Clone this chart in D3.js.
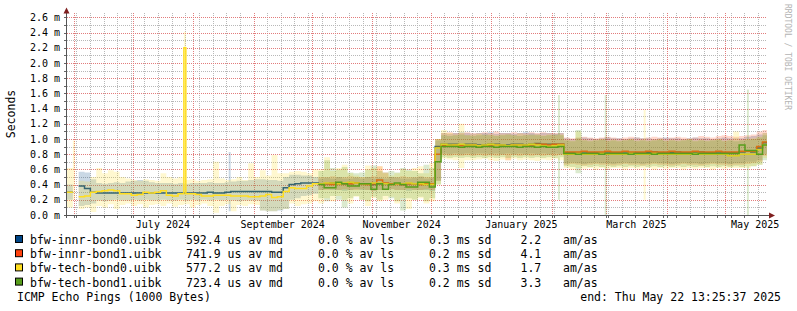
<!DOCTYPE html>
<html>
<head>
<meta charset="utf-8">
<title>ICMP Echo Pings</title>
<script src="https://cdn.jsdelivr.net/npm/d3@7"></script>
<style>
    html, body { margin: 0; padding: 0; background: #fff; }
    svg { display: block; }
    text { font-family: "DejaVu Sans Mono", monospace; }
</style>
</head>
<body>
<div id="chart"></div>
<script>
// --- Data (values in ms, one value per 3-day bucket) ---
const hosts  = ["bfw-innr-bond0.uibk", "bfw-innr-bond1.uibk", "bfw-tech-bond0.uibk", "bfw-tech-bond1.uibk"];
const colors = ["#004586", "#ff420e", "#ffde20", "#579d1c"];
const statMedian = ["592.4", "741.9", "577.2", "723.4"];
const statLoss   = ["0.0", "0.0", "0.0", "0.0"];
const statSd     = ["0.3", "0.2", "0.3", "0.2"];
const statAmas   = ["2.2", "4.1", "1.7", "3.3"];
const firstBucket = [0, 43, 0, 43];

const startTime  = new Date("2024-05-28T06:14:00Z");
const endTime    = new Date("2025-05-22T13:25:37Z");
const bucketDays = 3;

const yTickValues = [0, 0.2, 0.4, 0.6, 0.8, 1.0, 1.2, 1.4, 1.6, 1.8, 2.0, 2.2, 2.4, 2.6];
const monthLabels = ["July 2024", "September 2024", "November 2024", "January 2025", "March 2025", "May 2025"];

const innrBond0Med = [
    .30, null, .38, .35, .30,
    .29,.29,.29,.29,.29,.29,.29,.29,.29,.29,.29,.29,.29,.29,.29,.29,
    .29,.29,.29,.30,.29,.29,.30,
    .31,.31,.31,.31,.31,.31,.31,.30,.30,
    .36,.40,.41,.42,.42,.42,
    .41,.41,.42,.41,.41,.41,.42,.41,.41,.40,.41,.41,.41,.41,.40,.41,.41,.41,.41,.40,
    .90,
    .93,.93,.93,.92,.93,.93,.92,.92,.93,.93,.92,.92,.93,.93,.92,.93,.94,.93,.93,.93,.93,
    .82,.82,.82,.83,.82,.82,.82,.83,.82,.82,.83,.82,.82,.82,.82,.83,.82,.82,.82,.83,.82,.82,.82,.83,.82,.82,.83,.82,.82,.82,
    .83,.84,.83,.88,.95
];
const innrBond0Lo = [
    .20, null, .12, .13, .15,
    .19,.18,.19,.20,.19,.19,.20,.19,.20,.19,.19,.20,.19,.19,.20,.19,
    .20,.19,.20,.19,.20,.19,.20,
    .19,.18,.19,.19,.19,.06,.05,.05,.06,
    .08,.20,.22,.25,.26,.28,
    .33,.34,.33,.33,.32,.33,.34,.33,.33,.32,.33,.33,.34,.33,.33,.32,.33,.33,.33,.32,
    .45,
    .81,.80,.81,.80,.81,.80,.81,.81,.80,.81,.80,.81,.80,.81,.80,.81,.80,.81,.80,.81,.80,
    .68,.69,.68,.67,.68,.69,.68,.68,.67,.68,.69,.68,.68,.67,.68,.69,.68,.68,.67,.68,.69,.68,.68,.67,.68,.69,.68,.68,.67,.68,
    .68,.70,.70,.72,.80
];
const innrBond0Hi = [
    .40, null, .57, .56, .47,
    .42,.41,.42,.43,.42,.44,.45,.46,.45,.43,.42,.42,.42,.41,.42,.41,
    .42,.42,.42,.43,.42,.42,.43,
    .44,.45,.45,.46,.47,.47,.46,.46,.45,
    .50,.53,.53,.52,.52,.50,
    .48,.49,.48,.50,.48,.48,.49,.48,.50,.48,.49,.48,.50,.49,.48,.48,.49,.50,.48,.49,
    .98,
    1.08,1.07,1.08,1.09,1.08,1.07,1.08,1.08,1.09,1.07,1.08,1.08,1.07,1.08,1.09,1.08,1.07,1.08,1.08,1.07,1.08,
    1.01,1.00,1.01,1.02,1.01,1.00,1.01,1.02,1.01,1.01,1.00,1.01,1.02,1.01,1.01,1.00,1.01,1.02,1.01,1.01,1.00,1.01,1.02,1.01,1.01,1.00,1.01,1.02,1.01,1.01,
    1.01,1.03,1.04,1.06,1.08
];

const innrBond1Med = [
    .41,.41,.40,.41,.41,.41,.42,.41,.40,.41,.46,.42,.41,.41,.40,.41,.41,.40,.41,.41,
    .80,
    .91,.91,.92,.91,.91,.92,.91,.91,.92,.92,.91,.91,.92,.92,.91,.92,.93,.93,.92,.93,.93,
    .83,.83,.83,.84,.83,.83,.83,.84,.83,.83,.84,.83,.83,.83,.84,.83,.83,.83,.84,.83,.83,.83,.84,.83,.83,.83,.84,.83,.83,.83,
    .84,.84,.84,.90,.96
];
const innrBond1Lo = [
    .33,.33,.34,.33,.34,.33,.33,.34,.33,.32,.33,.33,.34,.33,.33,.34,.33,.33,.34,.33,
    .45,
    .79,.78,.79,.78,.79,.78,.79,.78,.79,.78,.79,.72,.79,.78,.79,.78,.79,.78,.79,.78,.79,
    .66,.67,.66,.65,.66,.67,.66,.66,.65,.66,.67,.66,.66,.65,.66,.67,.66,.66,.65,.66,.67,.66,.66,.65,.66,.67,.66,.66,.65,.66,
    .66,.67,.68,.70,.78
];
const innrBond1Hi = [
    .50,.50,.51,.50,.50,.51,.50,.50,.50,.51,.64,.56,.50,.50,.51,.50,.50,.51,.50,.50,
    1.00,
    1.08,1.09,1.08,1.08,1.09,1.08,1.08,1.09,1.08,1.10,1.08,1.08,1.09,1.08,1.08,1.09,1.08,1.09,1.08,1.08,1.08,
    1.02,1.01,1.02,1.03,1.02,1.01,1.02,1.03,1.02,1.01,1.02,1.03,1.02,1.01,1.02,1.03,1.02,1.01,1.02,1.03,1.02,1.01,1.02,1.04,1.03,1.02,1.04,1.05,1.04,1.03,
    1.04,1.05,1.06,1.10,1.12
];

const techBond0Med = [
    .30, null, .24, .25, .30,
    .31,.32,.33,.32,.28,.28,.26,.27,.30,.29,.30,.32,.26,.25,.28,.28,
    .28,.27,.25,.25,.26,.26,.26,
    .25,.25,.25,.24,.24,.25,.27,.23,.24,
    .31,.36,.35,.35,.38,.41,
    .41,.42,.42,.41,.42,.43,.42,.41,.41,.42,.42,.41,.40,.41,.41,.42,.41,.41,.40,.40,
    .88,
    .93,.92,.92,.93,.92,.92,.91,.92,.93,.92,.92,.91,.92,.92,.92,.93,.92,.91,.90,.91,.92,
    .80,.80,.81,.80,.80,.80,.81,.80,.80,.80,.80,.81,.80,.80,.80,.81,.80,.80,.80,.80,.80,.80,.81,.80,.80,.80,.80,.80,.78,.78,
    .80,.80,.80,.86,.92
];
const techBond0Lo = [
    .10, null, .08, .10, .04,
    .12,.10,.14,.08,.13,.15,.12,.14,.10,.13,.14,.12,.15,.11,.13,.14,
    .10,.13,.15,.12,.03,.12,.14,
    .05,.13,.12,.14,.13,.06,.05,.05,.07,
    .08,.15,.12,.14,.15,.18,
    .15,.22,.18,.25,.20,.15,.24,.20,.12,.22,.18,.20,.24,.15,.22,.08,.20,.22,.15,.18,
    .40,
    .74,.73,.72,.62,.72,.72,.73,.74,.72,.71,.73,.72,.74,.72,.73,.72,.71,.73,.72,.74,.72,
    .62,.60,.62,.61,.62,.60,.62,.61,.62,.62,.60,.62,.61,.62,.62,.60,.62,.61,.62,.62,.60,.62,.61,.62,.62,.60,.62,.61,.62,.62,
    .62,.62,.64,.66,.75
];
const techBond0Hi = [
    .62, null, .45, .44, .50,
    .62,.55,.59,.57,.50,.48,.46,.45,.47,.46,.45,.55,.50,.48,.50,.46,
    .47,.45,.46,.47,.70,.48,.46,
    .47,.50,.46,.68,.50,.59,.52,.79,.55,
    .55,.57,.58,.57,.55,.60,
    .60,.76,.58,.62,.66,.55,.52,.50,.65,.62,.64,.55,.52,.55,.60,.58,.62,.64,.55,.68,
    1.00,
    1.12,1.08,1.06,1.20,1.05,1.06,1.07,1.05,1.06,1.05,1.06,1.06,1.05,1.07,1.06,1.05,1.06,1.05,1.06,1.05,1.06,
    .99,.98,1.10,.99,.98,.99,1.00,.98,.99,.98,.99,1.00,.98,.99,.98,.99,1.00,.98,.99,.98,.99,1.00,.98,.99,.98,.99,1.00,.98,.99,1.10,
    .99,1.00,1.01,1.03,1.08
];

const techBond1Med = [
    .40,.36,.36,.43,.41,.38,.38,.41,.41,.34,.41,.34,.40,.42,.40,.37,.37,.43,.43,.37,
    .70,
    .90,.90,.90,.89,.90,.90,.89,.90,.90,.89,.90,.90,.90,.89,.90,.90,.89,.90,.89,.89,.90,
    .81,.81,.80,.81,.81,.81,.80,.81,.81,.81,.81,.80,.81,.81,.81,.80,.81,.81,.81,.81,.81,.81,.80,.81,.81,.81,.81,.81,.81,.81,
    .92,.85,.85,.80,.92
];
const techBond1Lo = [
    .22,.18,.25,.20,.10,.22,.25,.20,.18,.24,.20,.25,.22,.18,.06,.22,.20,.24,.18,.22,
    .40,
    .76,.75,.76,.75,.76,.75,.76,.75,.76,.75,.76,.75,.76,.75,.76,.75,.76,.75,.76,.75,.76,
    .64,.63,.55,.64,.63,.64,.63,.64,.63,.64,.63,.64,.63,.64,.63,.64,.63,.64,.63,.64,.63,.64,.63,.64,.63,.64,.63,.64,.63,.64,
    .63,.64,.64,.66,.72
];
const techBond1Hi = [
    .58,.72,.62,.60,.63,.56,.55,.56,.60,.65,.58,.56,.58,.56,.62,.60,.58,.55,.66,.62,
    1.00,
    1.05,1.04,1.05,1.06,1.05,1.04,1.05,1.06,1.05,1.04,1.05,1.06,1.05,1.04,1.05,1.06,1.05,1.04,1.05,1.06,1.05,
    .98,.97,1.12,.98,.97,.98,.99,.97,.98,.97,.98,.99,.97,.98,.97,.98,.99,.97,.98,.97,.98,.99,.97,.98,.97,.98,.99,.97,.98,.97,
    .98,.99,1.00,1.02,1.05
];

// single-day outliers (day index from start)
const spikeHost = [2, 2, 0, 3, 3, 2, 3];
const spikeDay  = [3, 60, 83, 252, 276, 296, 349];
const spikeLo   = [.20, .20, .05, .20, .00, .20, .00];
const spikeHi   = [.98, 2.41, .83, 1.58, 1.58, 1.38, 1.65];
const medSpikeHost = [2];
const medSpikeDay  = [60];
const medSpikeVal  = [2.2];

const series = [
    { med: innrBond0Med, lo: innrBond0Lo, hi: innrBond0Hi },
    { med: innrBond1Med, lo: innrBond1Lo, hi: innrBond1Hi },
    { med: techBond0Med, lo: techBond0Lo, hi: techBond0Hi },
    { med: techBond1Med, lo: techBond1Lo, hi: techBond1Hi }
];

// --- Layout ---
const W = 797, H = 311;
const plot = { left: 67, right: 767, top: 13, bottom: 215 };
const dayMs = 864e5;
const nDays = Math.ceil((endTime - startTime) / dayMs);

const svg = d3.select("#chart").append("svg")
    .attr("width", W)
    .attr("height", H);

svg.append("rect").attr("width", W).attr("height", H).attr("fill", "#fff");

const x = d3.scaleTime().domain([startTime, endTime]).range([plot.left, plot.right]);
const y = d3.scaleLinear().domain([0, 2.6]).range([plot.bottom, 17.4]);
const dayX = d => x(new Date(startTime.getTime() + d * dayMs));
const snap = v => Math.round(v) + 0.5;

svg.append("defs").append("clipPath").attr("id", "plotClip")
    .append("rect")
    .attr("x", plot.left).attr("y", plot.top)
    .attr("width", plot.right - plot.left).attr("height", plot.bottom - plot.top);

// --- Grid ---
const grid = svg.append("g").attr("shape-rendering", "crispEdges");
const minorY = d3.range(1, 26, 2).map(k => k / 10);
const majorY = d3.range(2, 27, 2).map(k => k / 10);
const months = d3.timeMonth.range(startTime, endTime);
const monthPx = months.map(m => Math.round(x(m)));
const weeks = d3.timeSunday.range(startTime, endTime).filter(w => !monthPx.includes(Math.round(x(w))));

grid.selectAll(".hminor").data(minorY).join("line")
    .attr("x1", plot.left).attr("x2", plot.right)
    .attr("y1", d => snap(y(d))).attr("y2", d => snap(y(d)))
    .attr("stroke", "#b8b8b8").attr("stroke-dasharray", "1,1");

grid.selectAll(".vminor").data(weeks).join("line")
    .attr("x1", d => snap(x(d))).attr("x2", d => snap(x(d)))
    .attr("y1", plot.top).attr("y2", plot.bottom)
    .attr("stroke", "#b8b8b8").attr("stroke-dasharray", "1,1");

grid.selectAll(".hmajor").data(majorY).join("line")
    .attr("x1", plot.left).attr("x2", plot.right)
    .attr("y1", d => snap(y(d))).attr("y2", d => snap(y(d)))
    .attr("stroke", "#e27c7c").attr("stroke-dasharray", "1,1");

grid.selectAll(".vmajor").data(months).join("line")
    .attr("x1", d => snap(x(d))).attr("x2", d => snap(x(d)))
    .attr("y1", plot.top).attr("y2", plot.bottom)
    .attr("stroke", "#e27c7c").attr("stroke-dasharray", "1,1");

// --- Smoke and median per host ---
function dailyValues(h) {
    const s = series[h];
    const first = firstBucket[h];
    const out = [];
    for (let d = 0; d < nDays; d++) {
        const k = Math.floor(d / bucketDays) - first;
        const inRange = k >= 0 && k < s.med.length;
        let lo = inRange ? s.lo[k] : null;
        let hi = inRange ? s.hi[k] : null;
        let med = inRange ? s.med[k] : null;
        spikeDay.forEach((sd, j) => {
            if (spikeHost[j] === h && sd === d) {
                lo = lo == null ? spikeLo[j] : Math.min(lo, spikeLo[j]);
                hi = hi == null ? spikeHi[j] : Math.max(hi, spikeHi[j]);
            }
        });
        medSpikeDay.forEach((sd, j) => {
            if (medSpikeHost[j] === h && sd === d) med = medSpikeVal[j];
        });
        out.push({ d, lo, hi, med });
    }
    return out;
}

function stepPoints(days, key) {
    const pts = [];
    days.forEach(p => {
        if (p[key] == null) { pts.push(null); return; }
        pts.push({ t: p.d, p }, { t: p.d + 1, p });
    });
    return pts;
}

const smokeArea = d3.area()
    .defined(d => d != null)
    .x(d => dayX(d.t))
    .y0(d => y(d.p.lo))
    .y1(d => y(d.p.hi));

const medLine = d3.line()
    .defined(d => d != null)
    .x(d => dayX(d.t))
    .y(d => y(d.p.med));

const dataG = svg.append("g").attr("clip-path", "url(#plotClip)");

hosts.forEach((name, h) => {
    const days = dailyValues(h);
    dataG.append("path")
        .attr("d", smokeArea(stepPoints(days, "lo")))
        .attr("fill", colors[h])
        .attr("fill-opacity", 0.21);
    dataG.append("path")
        .attr("d", medLine(stepPoints(days, "med")))
        .attr("fill", "none")
        .attr("stroke", colors[h])
        .attr("stroke-width", 1.5);
});

// --- Axes ---
const axis = svg.append("g").attr("shape-rendering", "crispEdges");
const allY = minorY.concat(majorY, [0]);
axis.selectAll(".ytick").data(allY).join("line")
    .attr("x1", plot.left - 3).attr("x2", plot.left)
    .attr("y1", d => snap(y(d))).attr("y2", d => snap(y(d)))
    .attr("stroke", "#666");
axis.selectAll(".xtick").data(weeks.concat(months)).join("line")
    .attr("x1", d => snap(x(d))).attr("x2", d => snap(x(d)))
    .attr("y1", plot.bottom).attr("y2", plot.bottom + 3)
    .attr("stroke", "#666");

axis.append("line")
    .attr("x1", plot.left - 0.5).attr("x2", plot.left - 0.5)
    .attr("y1", plot.bottom + 3).attr("y2", 9)
    .attr("stroke", "#555");
axis.append("line")
    .attr("x1", plot.left - 3).attr("x2", plot.right + 4)
    .attr("y1", plot.bottom + 0.5).attr("y2", plot.bottom + 0.5)
    .attr("stroke", "#555");

svg.append("path")
    .attr("d", `M${plot.left - 3.5},${plot.top + 0.5} L${plot.left + 2.5},${plot.top + 0.5} L${plot.left - 0.5},${plot.top - 5.5} Z`)
    .attr("fill", "#7f1f1f");
svg.append("path")
    .attr("d", `M${plot.right + 2},${plot.bottom - 2.5} L${plot.right + 2},${plot.bottom + 3.5} L${plot.right + 8},${plot.bottom + 0.5} Z`)
    .attr("fill", "#7f1f1f");

// y tick labels
svg.selectAll(".ylab").data(yTickValues).join("text")
    .attr("x", 60)
    .attr("y", d => y(d) + 3.5)
    .attr("text-anchor", "end")
    .attr("font-size", "10px")
    .attr("fill", "#000")
    .text(d => d3.format(".1f")(d) + " m");

// month labels, centred in their month
const parseMonth = d3.timeParse("%B %Y");
svg.selectAll(".xlab").data(monthLabels).join("text")
    .attr("x", d => {
        const m = parseMonth(d);
        return (x(m) + x(d3.timeMonth.offset(m, 1))) / 2;
    })
    .attr("y", 228)
    .attr("text-anchor", "middle")
    .attr("font-size", "10px")
    .attr("fill", "#000")
    .text(d => d);

// unit label
svg.append("text")
    .attr("transform", "translate(14.5, 114) rotate(-90)")
    .attr("text-anchor", "middle")
    .attr("font-size", "11.5px")
    .attr("fill", "#000")
    .text("Seconds");

// watermark
svg.append("text")
    .attr("transform", "translate(785, 4) rotate(90)")
    .attr("font-size", "8px")
    .attr("fill", "#b4b4b4")
    .text("RRDTOOL / TOBI OETIKER");

// --- Legend ---
const legend = svg.append("g").attr("font-size", "11.5px").attr("fill", "#000");
const cols = [30, 186, 318, 429, 520.5, 563];

hosts.forEach((name, h) => {
    const by = 244 + h * 14.2;
    legend.append("rect")
        .attr("x", 15.5).attr("y", by - 8.5)
        .attr("width", 7).attr("height", 7)
        .attr("fill", colors[h])
        .attr("stroke", "#000").attr("stroke-width", 1);
    const parts = [
        name,
        `${statMedian[h]} us av md`,
        `${statLoss[h]} % av ls`,
        `${statSd[h]} ms sd`,
        statAmas[h],
        "am/as"
    ];
    parts.forEach((p, i) => {
        legend.append("text").attr("x", cols[i]).attr("y", by).text(p);
    });
});

legend.append("text").attr("x", 17).attr("y", 300.8).text("ICMP Echo Pings (1000 Bytes)");
legend.append("text").attr("x", 781).attr("y", 300.8).attr("text-anchor", "end")
    .text("end: Thu May 22 13:25:37 2025");
</script>
</body>
</html>
